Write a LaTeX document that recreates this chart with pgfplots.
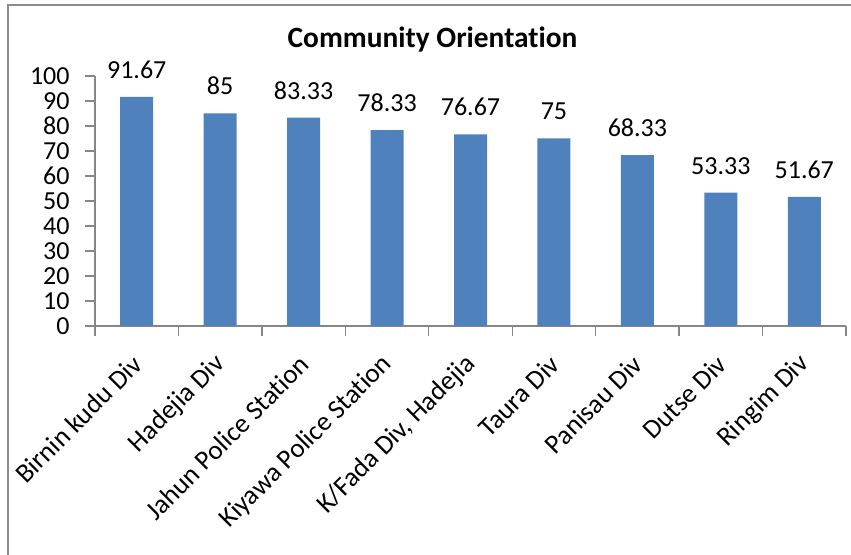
\documentclass[border=0pt]{standalone}
\usepackage{pgfplots}
\pgfplotsset{compat=1.18}
\usepackage{fontspec}
\setmainfont[Ligatures={NoCommon}]{Carlito}
\definecolor{barblue}{HTML}{4F81BD}
\definecolor{axgray}{HTML}{868686}
\definecolor{framegray}{HTML}{8C8C8C}
\begin{document}
\begin{tikzpicture}
\begin{axis}[
  at={(0,0)}, anchor=south west,
  scale only axis, width=375.5pt, height=125pt,
  xmin=-0.5, xmax=8.5, ymin=0, ymax=100,
  axis lines*=left,
  axis line style={axgray, line width=0.7pt},
  tick style={axgray, line width=0.7pt},
  tick align=outside, major tick length=5pt,
  xtick={-0.5,0.5,...,8.5},
  x tick label as interval,
  xticklabels={Birnin kudu Div, Hadejia Div, Jahun Police Station, Kiyawa Police Station, {K/Fada Div, Hadejia}, Taura Div, Panisau Div, Dutse Div, Ringim Div},
  ytick={0,10,...,100},
  /pgf/number format/assume math mode=true,
  yticklabel style={font=\fontsize{13}{15}\selectfont, anchor=east, inner sep=0pt, xshift=-7.5pt},
  xticklabel style={font=\fontsize{13.5}{15}\selectfont, yshift=-12pt, xshift=0.5pt, rotate=45, anchor=east, inner sep=0pt},
  nodes near coords,
  every node near coord/.append style={font=\fontsize{13}{15}\selectfont, anchor=south, inner sep=0pt, yshift=9pt, text=black},
  clip=false,
]
\addplot[ybar, fill=barblue, draw=none, bar width=16.5pt] coordinates {
  (0,91.67) (1,85) (2,83.33) (3,78.33) (4,76.67) (5,75) (6,68.33) (7,53.33) (8,51.67)
};
\end{axis}
\node[anchor=base, font=\fontsize{14.7}{16}\selectfont\bfseries] at (168.75pt,139pt) {Community Orientation};
\pgfresetboundingbox
\useasboundingbox (-47.5pt,-114.5pt) rectangle (378pt,163pt);
\draw[framegray, line width=1pt] (-43.5pt,-114.5pt) -- (-43.5pt,160.5pt) -- (378pt,160.5pt);
\end{tikzpicture}
\end{document}
